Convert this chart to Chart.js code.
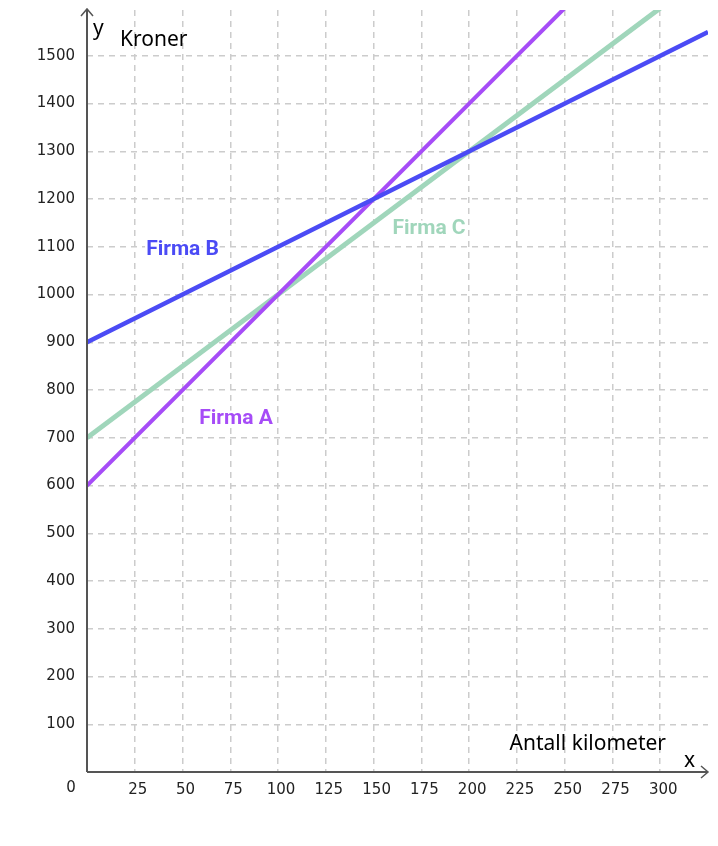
<!DOCTYPE html>
<html>
<head>
<meta charset="utf-8">
<script src="https://cdn.jsdelivr.net/npm/chart.js@4/dist/chart.umd.min.js"></script>
<style>
html,body{margin:0;padding:0;background:#fff;}
#wrap{width:718px;height:846px;}
</style>
</head>
<body>
<div id="wrap"><canvas id="c" width="718" height="846"></canvas></div>
<script>
// Data
const xEnds = [0, 325];
const firmaA = [600, 1900];
const firmaB = [900, 1550];
const firmaC = [700, 1675];
const seriesNames = ['Firma A', 'Firma B', 'Firma C'];
const xTickValues = [25, 50, 75, 100, 125, 150, 175, 200, 225, 250, 275, 300];
const yTickValues = [100, 200, 300, 400, 500, 600, 700, 800, 900, 1000, 1100, 1200, 1300, 1400, 1500];
const xRange = [0, 325];
const yRange = [0, 1596];
const xTitle = 'Antall kilometer';
const yTitle = 'Kroner';

const colA = '#a64cf7', colB = '#4b4bf5', colC = '#a0d6bb';
const toPts = arr => arr.map((v, i) => ({x: xEnds[i], y: v}));

const tickFont = {family: 'DejaVu Sans', size: 15};
const gridColor = '#cccccc';

const decor = {
  id: 'decor',
  afterDatasetsDraw(chart) {
    const {ctx, chartArea: a, scales} = chart;
    ctx.save();
    // axes
    ctx.strokeStyle = '#555';
    ctx.lineWidth = 2;
    ctx.beginPath();
    ctx.moveTo(a.left, a.bottom);
    ctx.lineTo(a.left, a.top - 1);
    ctx.moveTo(a.left, a.bottom);
    ctx.lineTo(a.right, a.bottom);
    ctx.stroke();
    ctx.lineWidth = 1.5;
    ctx.beginPath();
    ctx.moveTo(a.left - 6, a.top + 6);
    ctx.lineTo(a.left, a.top - 1);
    ctx.lineTo(a.left + 6, a.top + 6);
    ctx.moveTo(a.right - 7, a.bottom - 6);
    ctx.lineTo(a.right, a.bottom);
    ctx.lineTo(a.right - 7, a.bottom + 6);
    ctx.stroke();

    // origin label
    ctx.fillStyle = '#222';
    ctx.font = '15px "DejaVu Sans"';
    ctx.textAlign = 'center';
    ctx.textBaseline = 'middle';
    ctx.fillText('0', a.left - 16, a.bottom + 16);

    // axis titles
    ctx.fillStyle = '#000';
    ctx.font = '21px "Noto Sans"';
    ctx.textAlign = 'left';
    ctx.textBaseline = 'alphabetic';
    ctx.fillText('y', a.left + 6, a.top + 25);
    ctx.fillText(yTitle, a.left + 33, a.top + 36);
    ctx.textAlign = 'right';
    ctx.fillText(xTitle, a.right - 42, a.bottom - 22);
    ctx.fillText('x', a.right - 13, a.bottom - 5);

    // series labels
    const xs = scales.x, ys = scales.y;
    const labels = [
      {t: seriesNames[1], c: colB, x: 50, y: 1094},
      {t: seriesNames[0], c: colA, x: 78, y: 740},
      {t: seriesNames[2], c: colC, x: 179, y: 1137}
    ];
    ctx.font = 'bold 21px Roboto';
    ctx.textAlign = 'center';
    ctx.textBaseline = 'middle';
    ctx.lineJoin = 'round';
    labels.forEach(l => {
      const px = xs.getPixelForValue(l.x), py = ys.getPixelForValue(l.y);
      ctx.strokeStyle = '#fff';
      ctx.lineWidth = 5;
      ctx.strokeText(l.t, px, py);
      ctx.fillStyle = l.c;
      ctx.fillText(l.t, px, py);
    });
    ctx.restore();
  }
};

new Chart(document.getElementById('c'), {
  type: 'scatter',
  data: {
    datasets: [
      {label: seriesNames[1], data: toPts(firmaB), borderColor: colB, borderWidth: 4.5, showLine: true, pointRadius: 0, order: 1},
      {label: seriesNames[0], data: toPts(firmaA), borderColor: colA, borderWidth: 4, showLine: true, pointRadius: 0, order: 2},
      {label: seriesNames[2], data: toPts(firmaC), borderColor: colC, borderWidth: 5, showLine: true, pointRadius: 0, order: 3}
    ]
  },
  options: {
    responsive: false,
    animation: false,
    devicePixelRatio: 1,
    layout: {padding: {top: 10, right: 10, bottom: 0, left: 0}},
    plugins: {legend: {display: false}, tooltip: {enabled: false}},
    scales: {
      x: {
        type: 'linear', min: xRange[0], max: xRange[1],
        afterFit(s) { s.height = 74; s.paddingLeft = 0; s.paddingRight = 0; },
        afterBuildTicks(s) { s.ticks = xTickValues.map(v => ({value: v})); },
        ticks: {font: tickFont, color: '#222', padding: 9, labelOffset: 3, maxRotation: 0, autoSkip: false, callback: v => String(v)},
        grid: {color: gridColor, lineWidth: 1.5, drawTicks: false},
        border: {display: false, dash: [6, 5]}
      },
      y: {
        type: 'linear', min: yRange[0], max: yRange[1],
        afterFit(s) { s.width = 87; s.paddingTop = 0; s.paddingBottom = 0; },
        afterBuildTicks(s) { s.ticks = yTickValues.map(v => ({value: v})); },
        ticks: {font: tickFont, color: '#222', padding: 12, autoSkip: false, callback: v => String(v)},
        grid: {color: gridColor, lineWidth: 1.5, drawTicks: false},
        border: {display: false, dash: [6, 5]}
      }
    }
  },
  plugins: [decor]
});
</script>
</body>
</html>
